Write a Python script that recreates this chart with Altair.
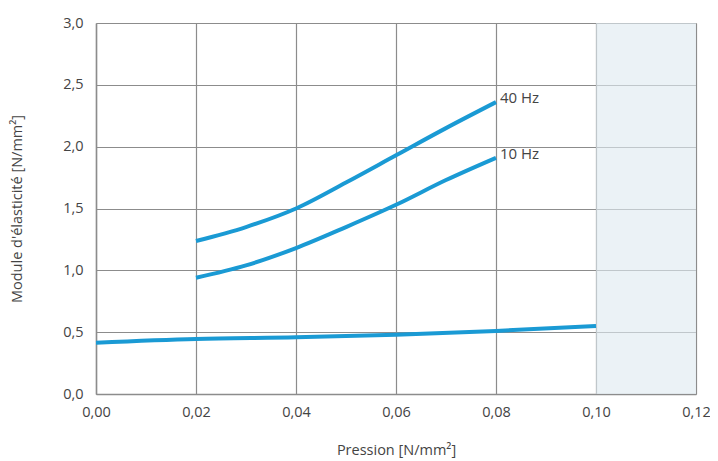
import altair as alt
import pandas as pd

# Data
x40 = [0.02, 0.03, 0.04, 0.05, 0.06, 0.07, 0.08]
y40 = [1.237, 1.35, 1.50, 1.71, 1.93, 2.15, 2.36]
x10 = [0.02, 0.03, 0.04, 0.05, 0.06, 0.07, 0.08]
y10 = [0.94, 1.04, 1.18, 1.35, 1.53, 1.73, 1.91]
xlow = [0.00, 0.02, 0.04, 0.06, 0.08, 0.10]
ylow = [0.415, 0.445, 0.458, 0.48, 0.51, 0.55]
label_text = ["40 Hz", "10 Hz"]
label_x = [0.08, 0.08]
label_y = [2.36, 1.91]
shade_x = [0.10]
shade_x2 = [0.12]

rows = []
for x, y in zip(x40, y40):
    rows.append({"p": x, "m": y, "s": "40"})
for x, y in zip(x10, y10):
    rows.append({"p": x, "m": y, "s": "10"})
for x, y in zip(xlow, ylow):
    rows.append({"p": x, "m": y, "s": "low"})
df = pd.DataFrame(rows)
labels = pd.DataFrame({"t": label_text, "p": label_x, "m": label_y})
shade = pd.DataFrame({"x": shade_x, "x2": shade_x2, "y": [0.0], "y2": [3.0]})

FONT = "Open Sans"
TXT = "#444444"
GRID = "#8c8c8c"
BLUE = "#1a9ad4"
FS = 14.5

xscale = alt.Scale(domain=[0, 0.12], nice=False, zero=False)
yscale = alt.Scale(domain=[0, 3.0], nice=False)

xaxis = alt.Axis(
    title="Pression [N/mm²]", values=[0, 0.02, 0.04, 0.06, 0.08, 0.10, 0.12],
    labelExpr="replace(format(datum.value, '.2f'), '.', ',')",
    grid=True, gridColor=GRID, gridWidth=1.2, gridOpacity=1,
    domainColor=GRID, domainWidth=1.5, ticks=False, labelPadding=11,
    labelFlush=False, labelOverlap=False,
    labelFontSize=FS, labelColor=TXT, labelFont=FONT,
    titleFontSize=14.5, titleColor=TXT, titleFont=FONT, titleFontWeight="normal",
    titleBaseline="middle", titleY=56,
)
yaxis = alt.Axis(
    title="Module d'élasticité [N/mm²]", values=[0, 0.5, 1.0, 1.5, 2.0, 2.5, 3.0],
    labelExpr="replace(format(datum.value, '.1f'), '.', ',')",
    grid=True, gridColor=GRID, gridWidth=1.2, gridOpacity=1,
    domainColor=GRID, domainWidth=1.5, ticks=False, labelPadding=13,
    labelFlush=False, labelOverlap=False,
    labelFontSize=FS, labelColor=TXT, labelFont=FONT,
    titleFontSize=14.5, titleColor=TXT, titleFont=FONT, titleFontWeight="normal",
    titleAngle=270, titleBaseline="middle", titleAlign="center", titleX=-79,
)

rect = alt.Chart(shade).mark_rect(color="#e0ebf1", opacity=0.63).encode(
    x=alt.X("x:Q", scale=xscale, axis=xaxis),
    x2="x2:Q",
    y=alt.Y("y:Q", scale=yscale, axis=yaxis),
    y2="y2:Q",
)

lines = alt.Chart(df).mark_line(color=BLUE, strokeWidth=4, interpolate="monotone").encode(
    x=alt.X("p:Q", scale=xscale),
    y=alt.Y("m:Q", scale=yscale),
    detail="s:N",
)

text = alt.Chart(labels).mark_text(
    align="left", baseline="middle", dx=4, dy=-4, font=FONT, fontSize=15, color=TXT
).encode(
    x=alt.X("p:Q", scale=xscale),
    y=alt.Y("m:Q", scale=yscale),
    text="t:N",
)

chart = (rect + lines + text).properties(
    width=600, height=371,
    autosize=alt.AutoSizeParams(type="none"),
    padding={"left": 88, "top": 15, "right": 14, "bottom": 66},
).configure_view(stroke=None)

chart.save("out.html", embed_options={"renderer": "svg", "actions": False})
